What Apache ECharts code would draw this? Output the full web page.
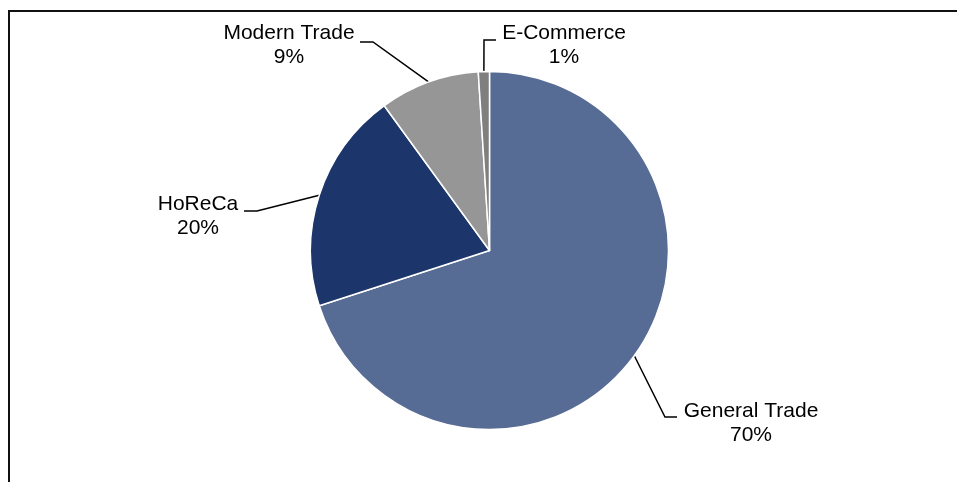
<!DOCTYPE html>
<html>
<head>
<meta charset="utf-8">
<script src="https://cdn.jsdelivr.net/npm/echarts@6/dist/echarts.min.js"></script>
<style>
  html, body { margin: 0; padding: 0; background: #fff; }
  #main { width: 957px; height: 482px; }
</style>
</head>
<body>
<div id="main"></div>
<script>
// channel split
var channels = ['General Trade', 'HoReCa', 'Modern Trade', 'E-Commerce'];
var shares = [70, 20, 9, 1];
var colors = ['#576c94', '#1c356b', '#969696', '#7f7f7f'];

// where each label sits and how its leader line bends
var labelPos = [
  { x: 751, y: 423, elbow: [665, 417], end: [677, 417] },
  { x: 198, y: 216, elbow: [257, 211], end: [244, 211] },
  { x: 289, y: 45, elbow: [373, 42], end: [360, 42] },
  { x: 564, y: 45, elbow: [484, 40], end: [496, 40] }
];

var pieData = channels.map(function (name, i) {
  return { name: name, value: shares[i], itemStyle: { color: colors[i] } };
});

var myChart = echarts.init(document.getElementById('main'));
myChart.setOption({
  animation: false,
  graphic: [{
    type: 'rect',
    shape: { x: 9, y: 11, width: 1200, height: 1000 },
    style: { fill: 'none', stroke: '#111', lineWidth: 2 },
    silent: true
  }],
  series: [{
    type: 'pie',
    center: [489.5, 250.5],
    radius: 179,
    startAngle: 90,
    clockwise: true,
    avoidLabelOverlap: false,
    emphasis: { disabled: true },
    itemStyle: { borderColor: '#fff', borderWidth: 1.5 },
    label: {
      show: true,
      position: 'outside',
      formatter: function (p) {
        return p.name + '\n' + Math.round(p.percent) + '%';
      },
      color: '#000',
      fontFamily: 'Liberation Sans, Arial, sans-serif',
      fontSize: 21,
      lineHeight: 24,
      align: 'center'
    },
    labelLine: {
      show: true,
      length: 20,
      length2: 10,
      lineStyle: { color: '#000', width: 1.5 }
    },
    labelLayout: function (params) {
      var p = labelPos[params.dataIndex];
      var pts = params.labelLinePoints;
      var start = pts && pts[0] ? pts[0] : p.elbow;
      return {
        x: p.x,
        y: p.y,
        align: 'center',
        verticalAlign: 'middle',
        labelLinePoints: [start, p.elbow, p.end]
      };
    },
    data: pieData
  }]
});
</script>
</body>
</html>
